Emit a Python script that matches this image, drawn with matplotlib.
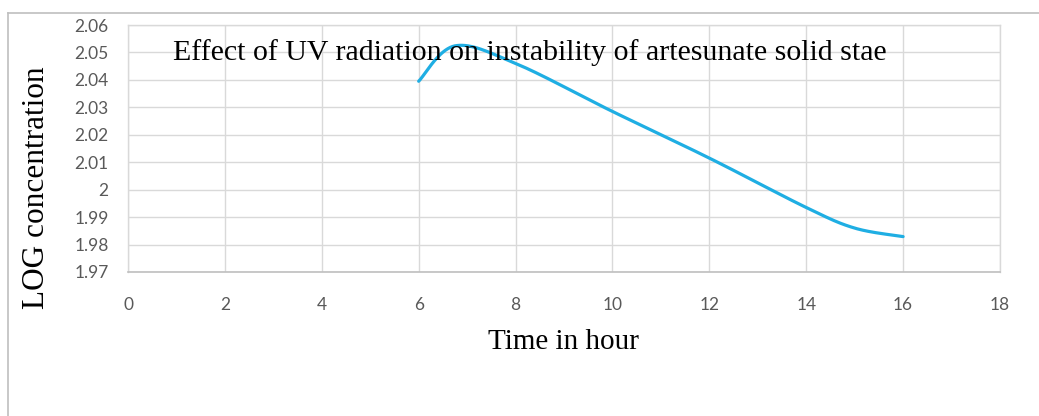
import matplotlib.pyplot as plt
import numpy as np

# dados
horas = [6, 6.75, 8, 10, 12, 14, 15, 16]
log_conc = [2.0395, 2.0524, 2.0460, 2.0285, 2.0115, 1.9935, 1.9860, 1.9829]
xticks = [0, 2, 4, 6, 8, 10, 12, 14, 16, 18]
yticks = [1.97, 1.98, 1.99, 2.00, 2.01, 2.02, 2.03, 2.04, 2.05, 2.06]
ylabels = ['1.97', '1.98', '1.99', '2', '2.01', '2.02', '2.03', '2.04', '2.05', '2.06']


# suaviza a linha como o excel (bezier)
def suaviza(xs, ys, n=40):
    px = [xs[0]] + list(xs) + [xs[-1]]
    py = [ys[0]] + list(ys) + [ys[-1]]
    cx, cy = [], []
    t = np.linspace(0, 1, n)
    for i in range(1, len(px) - 2):
        x0, y0 = px[i], py[i]
        x3, y3 = px[i + 1], py[i + 1]
        x1 = x0 + (px[i + 1] - px[i - 1]) / 6
        y1 = y0 + (py[i + 1] - py[i - 1]) / 6
        x2 = x3 - (px[i + 2] - px[i]) / 6
        y2 = y3 - (py[i + 2] - py[i]) / 6
        bx = (1-t)**3*x0 + 3*(1-t)**2*t*x1 + 3*(1-t)*t**2*x2 + t**3*x3
        by = (1-t)**3*y0 + 3*(1-t)**2*t*y1 + 3*(1-t)*t**2*y2 + t**3*y3
        cx.extend(bx)
        cy.extend(by)
    return cx, cy


fig = plt.figure(figsize=(10.39, 4.16), dpi=100)
ax = fig.add_axes([128/1039, 144/416, 872/1039, 247/416])

cx, cy = suaviza(horas, log_conc)
ax.plot(cx, cy, color='#1FAEE3', linewidth=2.3, solid_capstyle='round', zorder=3)

ax.set_xlim(0, 18)
ax.set_ylim(1.97, 2.06)
ax.set_xticks(xticks)
ax.set_yticks(yticks)
ax.set_yticklabels(ylabels)
ax.grid(True, color='#D9D9D9', linewidth=1.0)
ax.set_axisbelow(True)
for lado in ['top', 'right', 'left']:
    ax.spines[lado].set_color('#D9D9D9')
    ax.spines[lado].set_linewidth(1.0)
ax.spines['bottom'].set_color('#BFBFBF')
ax.spines['bottom'].set_linewidth(1.2)
ax.tick_params(axis='both', length=0, labelsize=12.5, labelcolor='#595959')
ax.tick_params(axis='x', pad=18)
ax.tick_params(axis='y', pad=14)
for lbl in ax.get_xticklabels() + ax.get_yticklabels():
    lbl.set_family('Lato')

fig.text(530/1039, 1 - 53/416, 'Effect of UV radiation on instability of artesunate solid stae',
         ha='center', va='center', fontsize=21.5, family='Liberation Serif')
fig.text(37/1039, 1 - 188/416, 'LOG concentration', rotation=90, ha='center', va='center',
         fontsize=22.5, family='Liberation Serif')
fig.text(563/1039, 1 - 342/416, 'Time in hour', ha='center', va='center',
         fontsize=21, family='Liberation Serif')

# moldura externa
fig.add_artist(plt.Line2D([8/1039, 1], [1 - 13/416, 1 - 13/416], color='#BFBFBF', linewidth=1.2))
fig.add_artist(plt.Line2D([8/1039, 8/1039], [0, 1 - 13/416], color='#BFBFBF', linewidth=1.2))

fig.savefig('out.png', dpi=100)
